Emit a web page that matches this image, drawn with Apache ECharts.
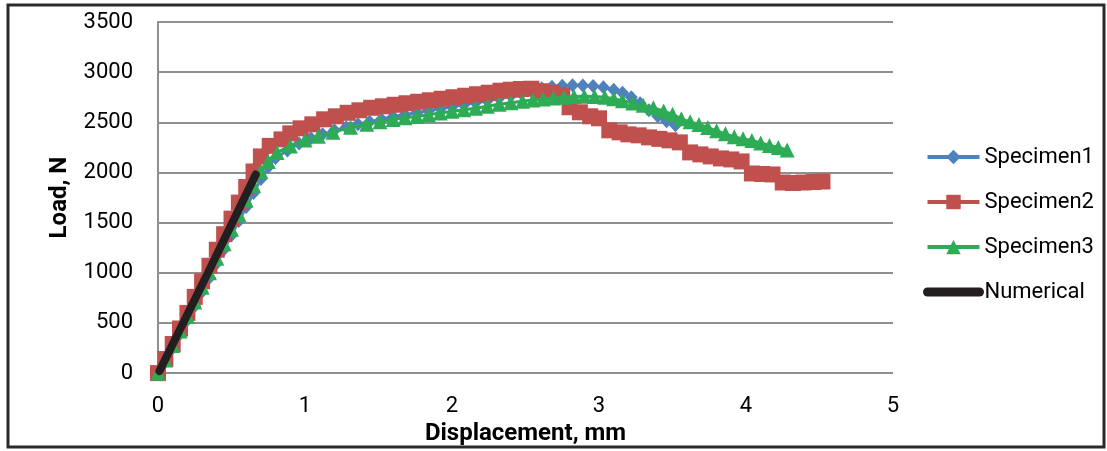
<!DOCTYPE html>
<html>
<head>
<meta charset="utf-8">
<script src="https://cdn.jsdelivr.net/npm/echarts@6/dist/echarts.min.js"></script>
<style>
html,body{margin:0;padding:0;background:#fff;}
#chart{width:1107px;height:451px;}
</style>
</head>
<body>
<div id="chart"></div>
<script>
var xTicks = [0, 1, 2, 3, 4, 5];
var yTicks = [0, 500, 1000, 1500, 2000, 2500, 3000, 3500];
var seriesNames = ['Specimen1', 'Specimen2', 'Specimen3', 'Numerical'];

var spec1Disp = [0,0.05,0.1,0.15,0.2,0.25,0.3,0.35,0.4,0.45,0.5,0.55,0.6,0.65,0.7,0.75,0.8,
  0.88,0.96,1.04,1.12,1.2,1.28,1.36,1.44,1.52,1.6,1.68,1.76,1.84,1.92,2.0,2.08,2.16,2.24,2.32,2.4,2.47,2.54,2.61,2.68,2.75,2.82,2.89,2.96,3.03,3.1,3.16,3.22,3.28,3.34,3.4,3.46,3.52];
var spec1Load = [0,110,250,390,530,670,810,950,1095,1235,1375,1515,1655,1795,1935,2055,2145,
  2220,2290,2340,2380,2420,2450,2480,2505,2530,2555,2575,2595,2615,2635,2655,2675,2695,2715,2740,2765,2790,2815,2840,2855,2865,2870,2868,2862,2850,2825,2795,2750,2690,2620,2560,2510,2470];

var spec2Disp = [0,0.05,0.1,0.15,0.2,0.25,0.3,0.35,0.4,0.45,0.5,0.55,0.6,0.65,0.7,0.76,0.84,0.9,0.97,1.05,1.13,1.21,1.29,1.37,1.45,1.53,1.61,1.69,1.77,1.85,1.93,2.01,2.09,2.17,2.25,2.33,2.4,2.47,2.54,2.61,2.68,2.75,2.8,2.87,2.94,3.0,3.07,3.14,3.2,3.27,3.34,3.41,3.48,3.55,3.62,3.69,3.76,3.83,3.9,3.97,4.04,4.11,4.18,4.25,4.32,4.39,4.46,4.52];
var spec2Load = [0,140,290,445,600,760,915,1070,1230,1385,1540,1700,1855,2010,2160,2265,2330,2390,2440,2480,2530,2560,2595,2620,2645,2660,2675,2690,2705,2720,2735,2750,2765,2780,2795,2815,2825,2832,2835,2810,2795,2770,2650,2600,2560,2540,2420,2400,2380,2370,2350,2335,2320,2300,2200,2180,2160,2140,2130,2110,1990,1985,1980,1900,1895,1900,1905,1910];

var spec3Disp = [0,0.05,0.1,0.15,0.2,0.25,0.3,0.35,0.4,0.45,0.5,0.55,0.6,0.65,0.7,0.75,0.81,0.9,1.0,1.09,1.19,1.31,1.42,1.51,1.6,1.68,1.76,1.84,1.92,2.0,2.08,2.16,2.24,2.32,2.4,2.48,2.55,2.62,2.69,2.76,2.83,2.9,2.97,3.04,3.1,3.16,3.23,3.3,3.37,3.44,3.5,3.56,3.62,3.68,3.74,3.8,3.86,3.92,3.98,4.04,4.1,4.16,4.22,4.28];
var spec3Load = [0,130,275,420,565,710,855,1000,1145,1290,1435,1580,1725,1870,2010,2110,2200,2265,2323,2362,2400,2450,2480,2505,2528,2545,2557,2575,2592,2610,2625,2640,2660,2680,2695,2710,2722,2732,2742,2750,2757,2760,2758,2750,2735,2715,2693,2670,2645,2612,2580,2535,2505,2478,2448,2415,2385,2355,2335,2318,2295,2270,2250,2225];

var numDisp = [0.01, 0.34, 0.665];
var numLoad = [20, 1000, 1980];

function zip(a, b) { return a.map(function (v, i) { return [v, b[i]]; }); }

var chart = echarts.init(document.getElementById('chart'), null, {renderer: 'canvas'});
var font = 'Roboto';
chart.setOption({
  animation: false,
  backgroundColor: '#fff',
  graphic: [{
    type: 'rect', z: 100, silent: true,
    shape: {x: 8, y: 5, width: 1096, height: 442},
    style: {fill: 'none', stroke: '#2a2a2a', lineWidth: 3}
  }],
  grid: {left: 158, right: 214, top: 22, bottom: 69, containLabel: false},
  legend: {
    orient: 'vertical', left: 923, top: 146, padding: 0,
    itemWidth: 52, itemHeight: 18, itemGap: 23,
    data: [
      {name: seriesNames[0], lineStyle: {width: 4}},
      {name: seriesNames[1], lineStyle: {width: 4}},
      {name: seriesNames[2], lineStyle: {width: 4}},
      {name: seriesNames[3], lineStyle: {width: 9, cap: 'round'}, itemStyle: {color: 'rgba(0,0,0,0)', borderWidth: 0}}
    ],
    textStyle: {fontFamily: font, fontSize: 22, color: '#000', lineHeight: 22}
  },
  xAxis: {
    type: 'value', min: xTicks[0], max: xTicks[xTicks.length - 1], interval: 1,
    name: 'Displacement, mm', nameLocation: 'middle', nameGap: 31,
    nameTextStyle: {fontFamily: font, fontSize: 24, fontWeight: 'bold', color: '#000'},
    axisLine: {show: false}, axisTick: {show: false}, splitLine: {show: false},
    axisLabel: {fontFamily: font, fontSize: 22, color: '#000', margin: 22}
  },
  yAxis: {
    type: 'value', min: yTicks[0], max: yTicks[yTicks.length - 1], interval: 500,
    name: 'Load, N', nameLocation: 'middle', nameGap: 86, nameRotate: 90,
    nameTextStyle: {fontFamily: font, fontSize: 24, fontWeight: 'bold', color: '#000'},
    axisLine: {show: true, lineStyle: {color: '#8f8f8f', width: 2}},
    axisTick: {show: false},
    splitLine: {show: true, lineStyle: {color: '#8f8f8f', width: 2}},
    axisLabel: {fontFamily: font, fontSize: 22, color: '#000', margin: 25,
      formatter: function (v) { return String(v); }}
  },
  series: [
    {name: seriesNames[0], type: 'line', data: zip(spec1Disp, spec1Load), clip: false, z: 2,
     symbol: 'diamond', symbolSize: [13, 14], showAllSymbol: true,
     itemStyle: {color: '#4F81BD'}, lineStyle: {color: '#4F81BD', width: 3}},
    {name: seriesNames[1], type: 'line', data: zip(spec2Disp, spec2Load), clip: false, z: 3,
     symbol: 'rect', symbolSize: 16, showAllSymbol: true,
     itemStyle: {color: '#C0504D'}, lineStyle: {color: '#C0504D', width: 3}},
    {name: seriesNames[2], type: 'line', data: zip(spec3Disp, spec3Load), clip: false, z: 4,
     symbol: 'triangle', symbolSize: [15, 15], showAllSymbol: true,
     itemStyle: {color: '#2EAB55'}, lineStyle: {color: '#2EAB55', width: 3}},
    {name: seriesNames[3], type: 'line', data: zip(numDisp, numLoad), clip: false, z: 5,
     symbol: 'none', itemStyle: {color: '#231F20'},
     lineStyle: {color: '#231F20', width: 8, cap: 'round'}}
  ]
});
</script>
</body>
</html>
